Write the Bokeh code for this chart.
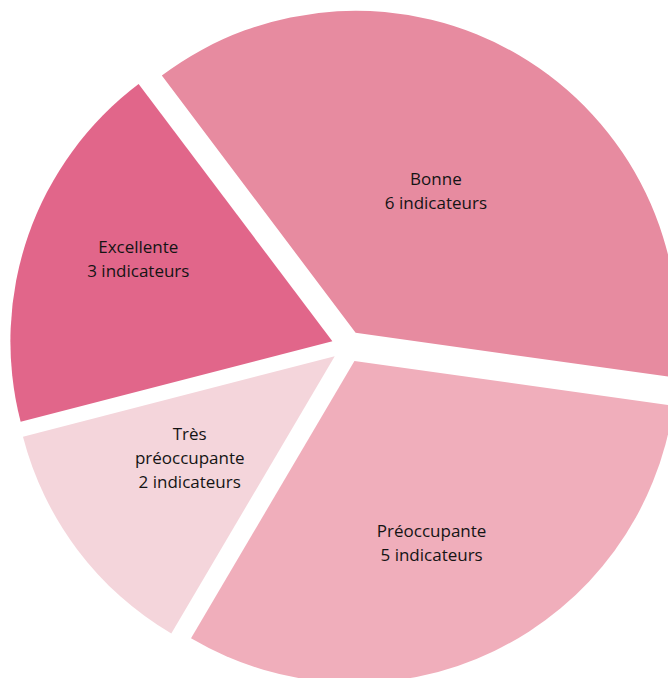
import math
from bokeh.plotting import figure
from bokeh.models import Range1d, ColumnDataSource
from bokeh.core.properties import value
from bokeh.embed import file_html
from bokeh.resources import INLINE

# ---- data ----
categories = ["Excellente", "Bonne", "Préoccupante", "Très préoccupante"]
counts = [3, 6, 5, 2]
label_lines = [
    "Excellente\n3 indicateurs",
    "Bonne\n6 indicateurs",
    "Préoccupante\n5 indicateurs",
    "Très\npréoccupante\n2 indicateurs",
]
colors = ["#E1668A", "#E78BA0", "#F0AEBB", "#F4D5DB"]

# ---- layout ----
W, H = 668, 678
R = 322.0
EXPLODE = 16.0
START_DEG = 194.5  # first slice starts here, slices go clockwise
# label placement relative to each slice's own centre (angle deg, distance px)
label_polar = [(156.9, 211), (60.5, 163), (-67.0, 197.5), (-145.0, 177)]

total = float(sum(counts))
starts, ends, cxs, cys, lx, ly = [], [], [], [], [], []
a = START_DEG
for i, c in enumerate(counts):
    span = 360.0 * c / total
    a_end = a - span  # clockwise
    mid = math.radians((a + a_end) / 2)
    cx = EXPLODE * math.cos(mid)
    cy = EXPLODE * math.sin(mid)
    cxs.append(cx)
    cys.append(cy)
    starts.append(math.radians(a_end))
    ends.append(math.radians(a))
    la, ld = label_polar[i]
    lx.append(cx + ld * math.cos(math.radians(la)))
    ly.append(cy + ld * math.sin(math.radians(la)))
    a = a_end

p = figure(width=W, height=H, output_backend="svg", toolbar_location=None,
           x_range=Range1d(-347, 321), y_range=Range1d(-332, 346),
           min_border=0, outline_line_color=None)
p.axis.visible = False
p.grid.visible = False
p.background_fill_color = "white"
p.border_fill_color = "white"

src = ColumnDataSource(dict(x=cxs, y=cys, s=starts, e=ends, color=colors, cat=categories))
p.wedge(x="x", y="y", radius=R, start_angle="s", end_angle="e",
        fill_color="color", line_color=None, source=src)

tsrc = ColumnDataSource(dict(x=lx, y=ly, text=label_lines))
p.text(x="x", y="y", text="text", source=tsrc, text_align="center",
       text_baseline="middle", text_font=value("Open Sans"),
       text_font_size="17px", text_color="#141414", text_line_height=1.05)

open("out.html", "w").write(file_html(p, INLINE))
